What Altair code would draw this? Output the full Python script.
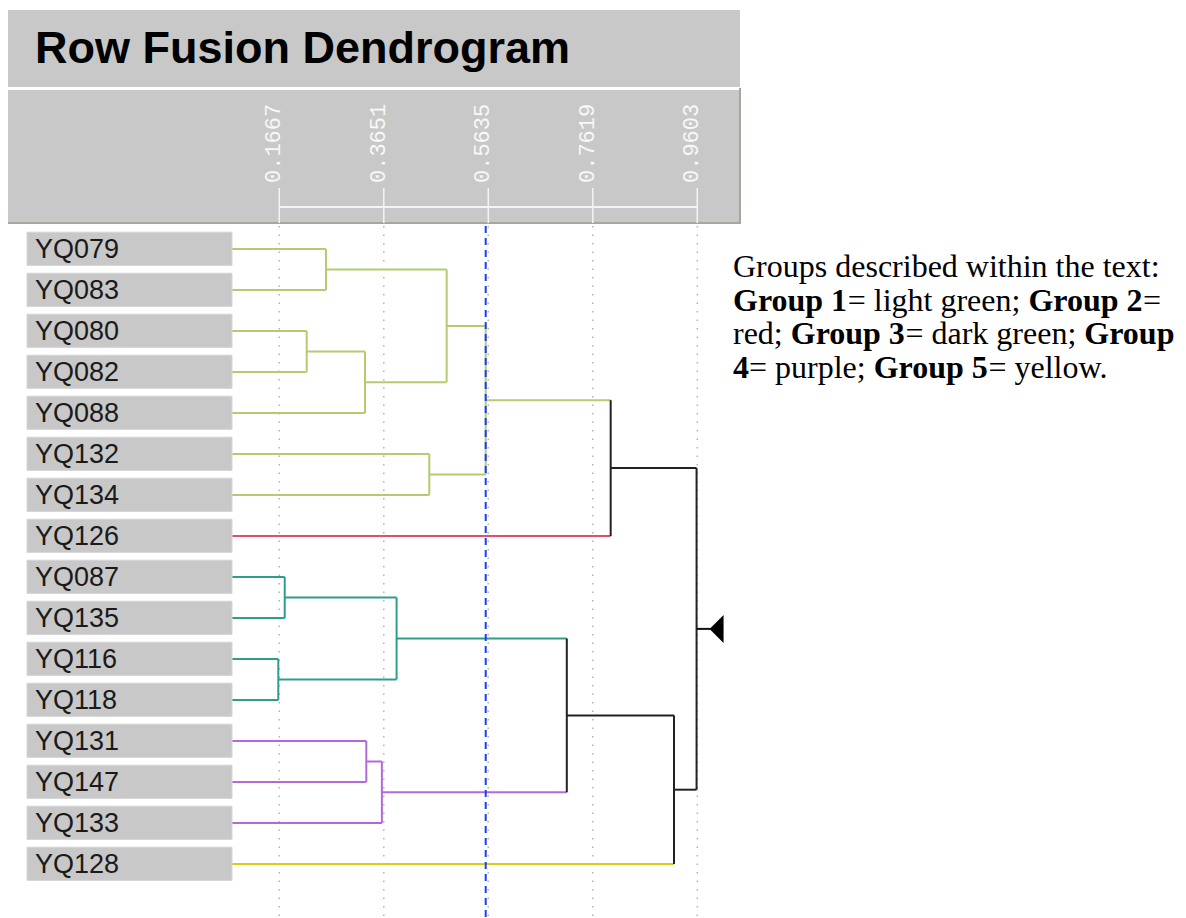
import altair as alt
import pandas as pd

# ---------------- data ----------------
leaves = ["YQ079", "YQ083", "YQ080", "YQ082", "YQ088", "YQ132", "YQ134", "YQ126",
          "YQ087", "YQ135", "YQ116", "YQ118", "YQ131", "YQ147", "YQ133", "YQ128"]
leaf_group = [1, 1, 1, 1, 1, 1, 1, 2, 3, 3, 3, 3, 4, 4, 4, 5]

merge_left = ["YQ079", "YQ080", "n2", "n1", "YQ132", "n4", "n6",
              "YQ087", "YQ116", "n8", "YQ131", "n11", "n10", "n13", "n7"]
merge_right = ["YQ083", "YQ082", "YQ088", "n3", "YQ134", "n5", "YQ126",
               "YQ135", "YQ118", "n9", "YQ147", "YQ133", "n12", "YQ128", "n14"]
merge_height = [0.2554, 0.2187, 0.3294, 0.4845, 0.4515, 0.5586, 0.7959,
                0.1770, 0.1648, 0.3894, 0.3319, 0.3615, 0.7126, 0.9161, 0.9590]
merge_group = [1, 1, 1, 1, 1, 1, 0, 3, 3, 3, 4, 4, 0, 0, 0]

tick_values = [0.1667, 0.3651, 0.5635, 0.7619, 0.9603]
tick_labels = ["0.1667", "0.3651", "0.5635", "0.7619", "0.9603"]
cut_value = 0.5586

group_colors = {0: "#222222", 1: "#b4cb6e", 2: "#e4506a", 3: "#2e9e8c",
                4: "#b468dc", 5: "#d4d010"}

title_text = "Row Fusion Dendrogram"
note_lines = [
    [("Groups described within the text:", False)],
    [("Group 1", True), ("= light green; ", False), ("Group 2", True), ("=", False)],
    [("red; ", False), ("Group 3", True), ("= dark green; ", False), ("Group", True)],
    [("4", True), ("= purple; ", False), ("Group 5", True), ("= yellow.", False)],
]

# ---------------- build tree geometry ----------------
nodes = {}
for i, (name, g) in enumerate(zip(leaves, leaf_group)):
    nodes[name] = (0.0, float(i), g)

segs = []
for k, (l, r, h, g) in enumerate(zip(merge_left, merge_right, merge_height, merge_group)):
    xl, yl, gl = nodes[l]
    xr, yr, gr = nodes[r]
    segs.append({"x": xl, "x2": h, "y": yl, "y2": yl, "color": group_colors[gl]})
    segs.append({"x": xr, "x2": h, "y": yr, "y2": yr, "color": group_colors[gr]})
    segs.append({"x": h, "x2": h, "y": yl, "y2": yr, "color": group_colors[g]})
    nodes["n%d" % (k + 1)] = (h, (yl + yr) / 2.0, g)
seg_df = pd.DataFrame(segs)

root_name = "n%d" % len(merge_height)
root_df = pd.DataFrame([{"x": nodes[root_name][0], "y": nodes[root_name][1]}])

leaf_df = pd.DataFrame({"name": leaves, "i": list(range(len(leaves)))})
tick_df = pd.DataFrame({"v": tick_values, "label": tick_labels})
cut_df = pd.DataFrame({"v": [cut_value]})
one = pd.DataFrame({"k": [0]})

# text metrics (Times) for laying out the mixed bold/regular note
REG = {' ': 250, '=': 564, ';': 278, ':': 278, '.': 250, 'a': 444, 'b': 500, 'c': 444,
       'd': 500, 'e': 444, 'g': 500, 'h': 500, 'i': 278, 'k': 500, 'l': 278, 'n': 500,
       'o': 500, 'p': 500, 'r': 333, 's': 389, 't': 278, 'u': 500, 'w': 722, 'x': 500,
       'y': 500, 'G': 722}
BOLD = {' ': 250, 'G': 778, 'r': 444, 'o': 500, 'u': 556, 'p': 556, '1': 500, '2': 500,
        '3': 500, '4': 500, '5': 500}
NOTE_SIZE = 32
rows = []
for li, line in enumerate(note_lines):
    cx = 725.0
    cy = 269.0 + 33.7 * li
    for txt, b in line:
        rows.append({"t": txt, "b": b, "px": cx, "py": cy})
        tab = BOLD if b else REG
        cx += sum(tab.get(c, 500) for c in txt) * NOTE_SIZE / 1000.0
note_df = pd.DataFrame(rows)

# ---------------- scales ----------------
xs = alt.Scale(domain=[0, 1.2], range=[183.5, 815.5], nice=False, zero=False)
ys = alt.Scale(domain=[0, 15], range=[241, 856], nice=False, zero=False)
GRAY = "#c8c8c8"

band1 = alt.Chart(one).mark_rect(color=GRAY).encode(
    x=alt.value(0), x2=alt.value(732), y=alt.value(2), y2=alt.value(79))
band2 = alt.Chart(one).mark_rect(color=GRAY).encode(
    x=alt.value(0), x2=alt.value(732), y=alt.value(82), y2=alt.value(215))
band2_bottom = alt.Chart(one).mark_rule(color="#aaa79a", strokeWidth=2).encode(
    x=alt.value(0), x2=alt.value(733), y=alt.value(215), y2=alt.value(215))
band2_right = alt.Chart(one).mark_rule(color="#aaa79a", strokeWidth=2).encode(
    x=alt.value(732), x2=alt.value(732), y=alt.value(80), y2=alt.value(216))

title = alt.Chart(one).mark_text(
    font="Liberation Sans", fontWeight="bold", fontSize=45, align="left",
    baseline="alphabetic", color="#000000").encode(
    x=alt.value(27), y=alt.value(55), text=alt.value(title_text))

tick_text = alt.Chart(tick_df).mark_text(
    font="Liberation Mono", fontSize=22, angle=270, align="left",
    baseline="alphabetic", color="#f8f8f8", xOffset=1).encode(
    x=alt.X("v:Q", scale=xs, axis=None), y=alt.value(175), text="label:N")

ruler_h = alt.Chart(pd.DataFrame({"a": [min(tick_values)], "b": [max(tick_values)]})).mark_rule(
    color="#f4f4f4", strokeWidth=2).encode(
    x=alt.X("a:Q", scale=xs, axis=None), x2="b:Q", y=alt.value(199), y2=alt.value(199))
ruler_t = alt.Chart(tick_df).mark_rule(color="#f4f4f4", strokeWidth=1.5).encode(
    x=alt.X("v:Q", scale=xs, axis=None), y=alt.value(180), y2=alt.value(215))

grid = alt.Chart(tick_df).mark_rule(color="#b4b4b4", strokeWidth=1.5, strokeDash=[1.5, 7]).encode(
    x=alt.X("v:Q", scale=xs, axis=None), y=alt.value(218), y2=alt.value(910))

tree = alt.Chart(seg_df).mark_rule(strokeWidth=2).encode(
    x=alt.X("x:Q", scale=xs, axis=None), x2="x2:Q",
    y=alt.Y("y:Q", scale=ys, axis=None), y2="y2:Q",
    color=alt.Color("color:N", scale=None))

boxes = alt.Chart(leaf_df).transform_calculate(
    y0="datum.i - 0.41", y1="datum.i + 0.4").mark_rect(
    color=GRAY, stroke="#d6d6d6", strokeWidth=1).encode(
    x=alt.value(19), x2=alt.value(224),
    y=alt.Y("y0:Q", scale=ys, axis=None), y2="y1:Q")
labels = alt.Chart(leaf_df).mark_text(
    font="Liberation Sans", fontSize=27, align="left", baseline="alphabetic",
    dy=9, color="#1a1a1a").encode(
    x=alt.value(27), y=alt.Y("i:Q", scale=ys, axis=None), text="name:N")

cut = alt.Chart(cut_df).mark_rule(color="#1a3cff", strokeWidth=2, strokeDash=[7, 5]).encode(
    x=alt.X("v:Q", scale=xs, axis=None), y=alt.value(218), y2=alt.value(910))

stub = alt.Chart(root_df).mark_rule(color="#111111", strokeWidth=2, x2Offset=14).encode(
    x=alt.X("x:Q", scale=xs, axis=None), x2="x:Q",
    y=alt.Y("y:Q", scale=ys, axis=None), y2="y:Q")
arrow = alt.Chart(root_df).mark_point(
    shape="M0.5,-1L-0.5,0L0.5,1Z", filled=True, size=784, color="#000000",
    opacity=1, xOffset=20).encode(
    x=alt.X("x:Q", scale=xs, axis=None), y=alt.Y("y:Q", scale=ys, axis=None))

note_reg = alt.Chart(note_df).transform_filter("!datum.b").mark_text(
    font="Liberation Serif", fontSize=NOTE_SIZE, align="left", baseline="alphabetic",
    color="#000000").encode(
    x=alt.X("px:Q", scale=None), y=alt.Y("py:Q", scale=None), text="t:N")
note_bold = alt.Chart(note_df).transform_filter("datum.b").mark_text(
    font="Liberation Serif", fontWeight="bold", fontSize=NOTE_SIZE, align="left",
    baseline="alphabetic", color="#000000").encode(
    x=alt.X("px:Q", scale=None), y=alt.Y("py:Q", scale=None), text="t:N")

chart = alt.layer(
    band1, band2, band2_bottom, band2_right, title, ruler_h, ruler_t, tick_text,
    grid, tree, boxes, labels, cut, stub, arrow, note_reg, note_bold
).properties(
    width=1170, height=910, autosize=alt.AutoSizeParams(type="none"), padding=0
).configure_view(stroke=None)

chart.save("out.html", embed_options={"renderer": "svg", "actions": False})
